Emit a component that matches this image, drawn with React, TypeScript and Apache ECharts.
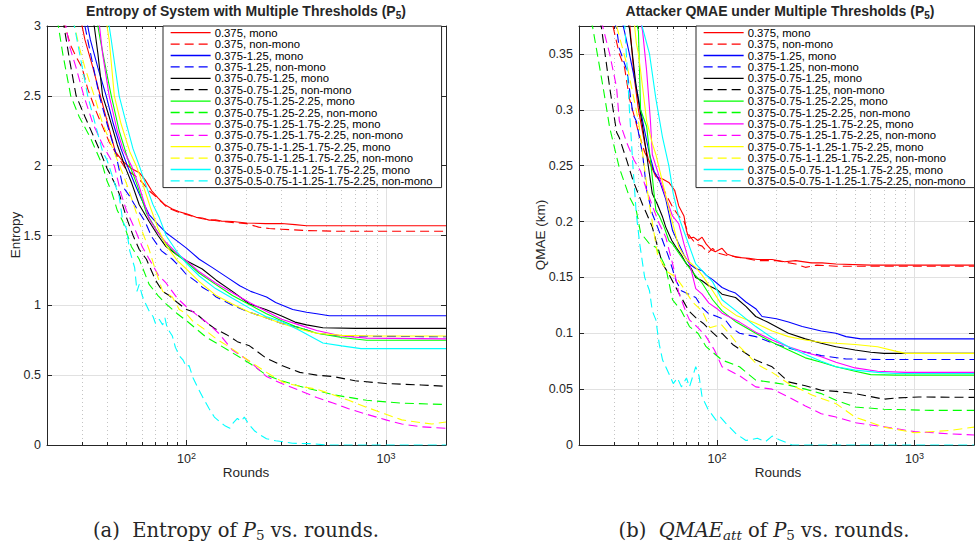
import React, { useEffect, useRef } from "react";
import * as echarts from "echarts";

// ---------- legend / series styling ----------
const SERIES_NAMES = [
  "0.375, mono",
  "0.375, non-mono",
  "0.375-1.25, mono",
  "0.375-1.25, non-mono",
  "0.375-0.75-1.25, mono",
  "0.375-0.75-1.25, non-mono",
  "0.375-0.75-1.25-2.25, mono",
  "0.375-0.75-1.25-2.25, non-mono",
  "0.375-0.75-1.25-1.75-2.25, mono",
  "0.375-0.75-1.25-1.75-2.25, non-mono",
  "0.375-0.75-1-1.25-1.75-2.25, mono",
  "0.375-0.75-1-1.25-1.75-2.25, non-mono",
  "0.375-0.5-0.75-1-1.25-1.75-2.25, mono",
  "0.375-0.5-0.75-1-1.25-1.75-2.25, non-mono",
];
const SERIES_COLORS = [
  "#ff0000", "#ff0000", "#0000ff", "#0000ff", "#000000", "#000000", "#00ff00",
  "#00ff00", "#ff00ff", "#ff00ff", "#ffff00", "#ffff00", "#00ffff", "#00ffff",
];
const SERIES_DASHED = [false, true, false, true, false, true, false, true, false, true, false, true, false, true];

// ---------- axes ----------
const X_MIN = 20;
const X_MAX = 2000;
const X_MAJOR_TICKS = [100, 1000];
const X_MINOR_TICKS = [20, 30, 40, 50, 60, 70, 80, 90, 200, 300, 400, 500, 600, 700, 800, 900, 2000];
const ENT_Y = { min: 0, max: 3, interval: 0.5 };
const QMAE_Y = { min: 0, max: 0.375, interval: 0.05 };

// ---------- (a) Entropy vs rounds : [round, entropy] ----------
const entRedMono = [[29,3.1],[31,2.9],[34,2.7],[37,2.5],[40,2.32],[44,2.1],[48,2.03],[53,1.98],[58,1.95],[62,1.9],[67,1.82],[72,1.77],[78,1.72],[85,1.69],[92,1.67],[100,1.655],[112,1.63],[120,1.625],[130,1.61],[140,1.612],[150,1.603],[170,1.6],[200,1.59],[250,1.585],[300,1.586],[350,1.578],[400,1.57],[600,1.57],[1000,1.57],[2000,1.57]];
const entRedNon = [[24,3.05],[26.3,2.86],[28,2.78],[30,2.7],[32,2.55],[35,2.4],[38,2.28],[41,2.17],[46,2.05],[50,1.97],[55,1.93],[60,1.88],[65,1.82],[70,1.78],[75,1.74],[80,1.7],[90,1.67],[100,1.65],[120,1.62],[150,1.6],[180,1.59],[200,1.585],[230,1.56],[260,1.55],[300,1.545],[400,1.535],[600,1.53],[1000,1.53],[2000,1.53]];
const entBlueMono = [[31,3.1],[33,2.9],[36,2.7],[39.6,2.5],[43,2.3],[47,2.12],[50.5,2.0],[55,1.87],[60,1.75],[65,1.65],[72,1.58],[79,1.52],[90,1.46],[100,1.41],[116,1.33],[135,1.27],[160,1.2],[185,1.14],[210,1.1],[252,1.06],[280,1.02],[341,0.97],[400,0.95],[450,0.94],[520,0.925],[700,0.925],[1000,0.925],[2000,0.925]];
const entBlueNon = [[30,3.1],[32,2.9],[36.6,2.5],[40,2.3],[44,2.1],[48,1.85],[52,1.78],[56,1.7],[62,1.6],[67,1.49],[75,1.39],[85,1.33],[92,1.28],[100,1.22],[112,1.17],[120,1.13],[130,1.1],[141,1.06],[170,1.0],[207,0.95],[252,0.91],[300,0.87],[367,0.84],[450,0.8],[600,0.78],[2000,0.775]];
const entBlackMono = [[33,3.1],[34.5,3.0],[36,2.8],[38,2.5],[41,2.35],[45,2.15],[49,2.0],[53,1.88],[58,1.72],[65,1.6],[72,1.5],[79,1.42],[90,1.36],[100,1.32],[120,1.26],[141,1.18],[170,1.1],[207,1.01],[250,0.97],[304,0.92],[350,0.88],[400,0.86],[483,0.84],[700,0.835],[2000,0.835]];
const entBlackNon = [[24,3.05],[26,2.75],[28,2.5],[31,2.35],[34,2.22],[37,2.1],[40,1.98],[43.5,1.88],[46,1.8],[50,1.63],[54,1.5],[58,1.4],[63,1.33],[70,1.18],[76,1.1],[82,1.07],[90,1.02],[100,0.97],[110,0.95],[125,0.88],[140,0.83],[159,0.79],[180,0.74],[207,0.71],[252,0.62],[300,0.57],[370,0.52],[450,0.5],[543,0.49],[700,0.46],[1000,0.44],[1500,0.43],[2000,0.42]];
const entGreenMono = [[35,3.1],[37,2.9],[40,2.65],[42,2.5],[46,2.25],[52,2.0],[57,1.85],[63,1.66],[70,1.55],[79,1.44],[90,1.36],[100,1.31],[116,1.23],[140,1.15],[170,1.07],[210,1.0],[252,0.94],[300,0.89],[350,0.85],[450,0.8],[600,0.77],[800,0.75],[2000,0.75]];
const entGreenNon = [[22.5,3.05],[24,2.8],[26.3,2.5],[29,2.35],[33,2.2],[38,2.0],[40,1.89],[42,1.82],[45,1.68],[48,1.6],[53,1.42],[58,1.33],[65,1.15],[72,1.07],[79,1.01],[90,0.94],[100,0.89],[126,0.77],[145,0.72],[170,0.66],[210,0.58],[252,0.5],[300,0.46],[370,0.42],[450,0.39],[543,0.36],[800,0.32],[1200,0.3],[2000,0.29]];
const entMagMono = [[36,3.1],[38,2.8],[41,2.5],[45,2.25],[48,2.12],[53,2.0],[58,1.85],[65,1.62],[72,1.52],[79,1.45],[90,1.37],[100,1.32],[116,1.24],[140,1.16],[170,1.09],[207,1.02],[250,0.96],[300,0.9],[367,0.86],[450,0.82],[600,0.78],[800,0.765],[2000,0.76]];
const entMagNon = [[24.5,3.05],[26,2.85],[28,2.7],[30.6,2.5],[34,2.3],[38,2.15],[43.5,2.0],[47,1.8],[50,1.68],[55,1.55],[60,1.42],[67,1.3],[72,1.22],[79,1.16],[90,1.05],[100,0.99],[113,0.93],[126,0.88],[145,0.8],[170,0.68],[207,0.6],[252,0.49],[300,0.44],[370,0.39],[450,0.34],[543,0.3],[650,0.26],[800,0.22],[1000,0.18],[1200,0.15],[1500,0.13],[2000,0.12]];
const entYelMono = [[39,3.1],[41,2.9],[43.5,2.5],[47,2.3],[52,2.1],[56,2.0],[60,1.88],[66,1.7],[72,1.55],[79,1.43],[90,1.32],[100,1.26],[116,1.17],[141,1.07],[170,1.01],[207,0.95],[252,0.91],[300,0.87],[367,0.83],[450,0.8],[600,0.785],[900,0.78],[2000,0.78]];
const entYelNon = [[27,3.05],[29,2.85],[31,2.7],[34.5,2.5],[38,2.3],[42,2.15],[48,1.94],[51,1.84],[55,1.7],[60,1.53],[65,1.4],[70,1.25],[76,1.1],[85,1.06],[92,0.97],[100,0.94],[107,0.89],[120,0.84],[141,0.76],[165,0.7],[207,0.6],[252,0.52],[304,0.45],[370,0.42],[450,0.4],[543,0.36],[650,0.32],[800,0.27],[1000,0.22],[1200,0.18],[1500,0.16],[1700,0.15],[2000,0.165]];
const entCyanMono = [[40,3.1],[42,2.9],[46,2.5],[50,2.3],[54,2.12],[58,2.0],[63,1.85],[68,1.72],[73,1.63],[79,1.5],[90,1.38],[100,1.3],[116,1.21],[140,1.12],[170,1.05],[207,0.98],[250,0.92],[304,0.88],[370,0.82],[483,0.73],[600,0.71],[750,0.69],[2000,0.69]];
const entCyanNon = [[27,3.05],[32,2.5],[38,2.1],[40,2.04],[44,1.86],[46,1.78],[48,1.6],[50,1.55],[52,1.39],[55,1.27],[56.5,1.1],[58,1.15],[60,1.07],[62,1.02],[65,0.96],[68,0.92],[70,0.87],[73,0.9],[76,0.86],[78,0.91],[80,0.84],[85,0.78],[88,0.7],[92,0.64],[96,0.61],[100,0.56],[103,0.57],[108,0.48],[115,0.4],[122,0.33],[130,0.26],[138,0.2],[146,0.17],[155,0.14],[165,0.12],[172,0.16],[180,0.19],[188,0.17],[195,0.2],[205,0.15],[220,0.1],[235,0.07],[252,0.045],[280,0.03],[300,0.025],[340,0.012],[420,0.01],[500,0.0],[2000,0.0]];

// ---------- (b) QMAE vs rounds : [round, km] ----------
const qRedMono = [[36,0.38],[38,0.33],[40,0.3],[43,0.27],[45,0.255],[49,0.24],[53,0.238],[57,0.235],[61,0.228],[64,0.214],[68,0.205],[70,0.192],[72,0.185],[76,0.186],[80,0.183],[84,0.186],[88,0.18],[93,0.175],[98,0.173],[106,0.176],[112,0.171],[125,0.168],[145,0.167],[160,0.166],[190,0.166],[220,0.164],[250,0.165],[300,0.163],[340,0.163],[400,0.162],[600,0.161],[1000,0.161],[2000,0.161]];
const qRedNon = [[29.7,0.375],[32,0.35],[34,0.338],[36,0.31],[38,0.295],[40,0.28],[43,0.262],[46,0.252],[49,0.242],[53,0.231],[56,0.222],[60,0.212],[64,0.205],[68,0.2],[72,0.188],[78,0.18],[84,0.178],[90,0.172],[95,0.176],[100,0.172],[110,0.17],[130,0.168],[160,0.165],[200,0.165],[250,0.162],[280,0.159],[320,0.161],[400,0.16],[1000,0.16],[2000,0.16]];
const qBlueMono = [[33,0.38],[34,0.37],[36,0.35],[39,0.32],[42,0.29],[45.5,0.26],[48,0.245],[51,0.237],[55,0.22],[59.5,0.192],[64,0.18],[68,0.17],[72.5,0.162],[78,0.158],[84,0.156],[88,0.152],[95,0.148],[106,0.141],[115,0.138],[124,0.136],[140,0.128],[157,0.122],[169,0.115],[200,0.113],[230,0.11],[270,0.106],[337,0.102],[400,0.1],[450,0.097],[535,0.095],[1000,0.095],[2000,0.095]];
const qBlueNon = [[30,0.38],[31,0.373],[32,0.355],[35,0.335],[37.5,0.296],[39,0.29],[42,0.26],[44,0.228],[47,0.207],[50,0.195],[53,0.183],[57,0.168],[62,0.147],[66,0.138],[72,0.135],[78,0.132],[84,0.123],[90,0.118],[100,0.115],[110,0.112],[118,0.105],[130,0.1],[157,0.097],[200,0.09],[250,0.085],[300,0.082],[337,0.08],[450,0.077],[700,0.0765],[2000,0.0765]];
const qBlackMono = [[35,0.38],[36,0.373],[39,0.32],[42,0.285],[44,0.26],[47,0.225],[50,0.215],[53,0.204],[55,0.195],[59,0.183],[62,0.177],[66,0.17],[70,0.162],[74,0.158],[78,0.15],[84,0.147],[90,0.143],[100,0.139],[106,0.135],[124,0.132],[140,0.124],[157,0.115],[180,0.11],[230,0.1],[280,0.095],[337,0.091],[400,0.088],[500,0.085],[600,0.083],[700,0.082],[2000,0.082]];
const qBlackNon = [[25.5,0.38],[26,0.373],[28.6,0.32],[31,0.28],[32,0.275],[35,0.254],[37.5,0.237],[42,0.215],[44,0.207],[47,0.195],[49,0.183],[53,0.162],[57,0.153],[64,0.136],[72,0.12],[78,0.114],[85,0.109],[92,0.103],[100,0.097],[106,0.1],[120,0.09],[157,0.076],[190,0.07],[230,0.0565],[280,0.053],[337,0.049],[400,0.048],[500,0.046],[700,0.041],[800,0.042],[1050,0.043],[2000,0.0426]];
const qGreenMono = [[39,0.38],[40,0.37],[41,0.3],[44,0.285],[47,0.24],[49,0.21],[51,0.205],[54,0.195],[57,0.183],[59.5,0.18],[65,0.17],[70,0.162],[75,0.155],[84,0.145],[95,0.13],[106,0.12],[125,0.11],[157,0.1],[190,0.092],[230,0.085],[280,0.078],[337,0.074],[400,0.07],[500,0.066],[600,0.063],[800,0.0625],[2000,0.0625]];
const qGreenNon = [[23,0.38],[23.5,0.373],[26.5,0.32],[28.6,0.284],[32,0.248],[36,0.222],[39,0.21],[41,0.19],[45.5,0.18],[49,0.177],[55,0.159],[59.5,0.13],[66,0.12],[72.5,0.106],[80,0.1],[88,0.088],[106,0.076],[130,0.07],[157,0.058],[190,0.056],[230,0.0536],[280,0.05],[337,0.046],[400,0.04],[500,0.034],[700,0.032],[1200,0.031],[2000,0.031]];
const qMagMono = [[41,0.38],[42,0.37],[44,0.335],[46,0.29],[47,0.26],[51,0.24],[55,0.222],[59.5,0.205],[64,0.198],[68,0.18],[72,0.165],[78,0.14],[84,0.135],[91,0.127],[100,0.122],[106,0.118],[130,0.11],[157,0.101],[190,0.094],[230,0.088],[280,0.083],[337,0.079],[400,0.074],[500,0.069],[650,0.066],[900,0.065],[2000,0.065]];
const qMagNon = [[26,0.38],[26.5,0.373],[28.6,0.35],[31,0.32],[32,0.29],[35,0.27],[38,0.255],[41,0.245],[44,0.228],[48,0.21],[51,0.198],[55,0.186],[60,0.16],[64,0.136],[70,0.118],[72.5,0.112],[80,0.105],[88,0.097],[97,0.085],[106,0.07],[130,0.062],[157,0.052],[190,0.05],[230,0.043],[280,0.035],[337,0.028],[400,0.025],[500,0.02],[715,0.016],[1000,0.012],[1500,0.01],[2000,0.009]];
const qYelMono = [[38,0.38],[39,0.36],[40,0.35],[42,0.32],[44,0.29],[47,0.27],[49,0.26],[53,0.235],[57,0.212],[64,0.177],[70,0.166],[78,0.159],[84,0.152],[95,0.138],[106,0.125],[125,0.116],[157,0.109],[190,0.102],[230,0.097],[280,0.094],[337,0.092],[400,0.091],[500,0.09],[650,0.088],[800,0.084],[900,0.082],[2000,0.082]];
const qYelNon = [[31,0.375],[35,0.34],[40,0.29],[45,0.22],[50,0.17],[56,0.155],[62,0.15],[68,0.14],[75,0.128],[84,0.12],[92,0.105],[105,0.108],[115,0.1],[130,0.088],[160,0.072],[190,0.065],[230,0.055],[300,0.045],[400,0.037],[500,0.025],[700,0.016],[1000,0.011],[1500,0.013],[2000,0.016]];
const qCyanMono = [[41,0.38],[42,0.373],[45.5,0.35],[49,0.31],[53,0.275],[57,0.25],[60,0.225],[64,0.204],[70,0.185],[78,0.162],[84,0.156],[95,0.146],[106,0.13],[125,0.12],[157,0.106],[190,0.096],[230,0.088],[280,0.081],[337,0.075],[400,0.07],[500,0.067],[650,0.065],[800,0.064],[2000,0.064]];
const qCyanNon = [[34,0.38],[36,0.3],[37.5,0.25],[39,0.207],[40.6,0.18],[43,0.15],[45.5,0.138],[47,0.12],[49,0.112],[51,0.09],[53,0.076],[57,0.064],[60,0.055],[63,0.06],[66,0.052],[70,0.06],[72.5,0.052],[78,0.07],[81,0.062],[84,0.043],[90,0.032],[99,0.022],[104,0.025],[110,0.02],[125,0.01],[140,0.004],[160,0.006],[176,0.003],[190,0.008],[205,0.005],[240,0.0],[2000,0.0]];

const ENTROPY_DATA = [entRedMono, entRedNon, entBlueMono, entBlueNon, entBlackMono, entBlackNon, entGreenMono, entGreenNon, entMagMono, entMagNon, entYelMono, entYelNon, entCyanMono, entCyanNon];
const QMAE_DATA = [qRedMono, qRedNon, qBlueMono, qBlueNon, qBlackMono, qBlackNon, qGreenMono, qGreenNon, qMagMono, qMagNon, qYelMono, qYelNon, qCyanMono, qCyanNon];

const INK = "#262626";
const SANS = "Liberation Sans, Arial, Helvetica, sans-serif";
const SERIF = "DejaVu Serif, Liberation Serif, serif";

function xAxesFor(gridIndex: number) {
  const base = { type: "log", logBase: 10, min: X_MIN, max: X_MAX, gridIndex };
  return [
    {
      ...base,
      position: "bottom",
      axisLine: { show: true, onZero: false, lineStyle: { color: INK, width: 1 } },
      axisTick: { show: true, inside: true, length: 5, customValues: X_MAJOR_TICKS, lineStyle: { color: INK } },
      axisLabel: {
        show: true,
        customValues: X_MAJOR_TICKS,
        margin: 6,
        color: INK,
        formatter: (v: number) => {
          const e = Math.round(Math.log10(v));
          if (Math.abs(Math.pow(10, e) - v) > 1e-6) return "";
          return `{b|10}{s|${e}}`;
        },
        rich: {
          b: { fontSize: 12.5, fontFamily: SANS, color: INK },
          s: { fontSize: 9, fontFamily: SANS, color: INK, padding: [0, 0, 7, 0] },
        },
      },
      splitLine: { show: true, lineStyle: { color: "#e1e1e1", width: 1 } },
      z: 1,
    },
    {
      ...base,
      position: "bottom",
      axisLine: { show: false, onZero: false },
      axisTick: { show: true, inside: true, length: 3, customValues: X_MINOR_TICKS, lineStyle: { color: INK } },
      axisLabel: { show: false },
      splitLine: { show: true, lineStyle: { color: "#c4c4c4", width: 1, type: [1, 3] } },
      z: 1,
    },
    {
      ...base,
      position: "top",
      axisLine: { show: true, onZero: false, lineStyle: { color: INK, width: 1 } },
      axisTick: { show: true, inside: true, length: 3, customValues: [...X_MINOR_TICKS, ...X_MAJOR_TICKS], lineStyle: { color: INK } },
      axisLabel: { show: false },
      splitLine: { show: false },
      z: 1,
    },
  ];
}

function yAxesFor(gridIndex: number, cfg: { min: number; max: number; interval: number }) {
  const base = { type: "value", gridIndex, min: cfg.min, max: cfg.max, interval: cfg.interval };
  const onGrid = (v: number) => Math.abs(v / cfg.interval - Math.round(v / cfg.interval)) < 1e-6;
  return [
    {
      ...base,
      position: "left",
      axisLine: { show: true, onZero: false, lineStyle: { color: INK } },
      axisTick: { show: true, inside: true, length: 5, lineStyle: { color: INK } },
      axisLabel: {
        color: INK,
        fontSize: 12.5,
        fontFamily: SANS,
        margin: 6,
        formatter: (v: number) => (onGrid(v) ? String(+v.toFixed(3)) : ""),
      },
      splitLine: { show: true, lineStyle: { color: "#e1e1e1", width: 1 } },
      z: 1,
    },
    {
      ...base,
      position: "right",
      axisLine: { show: true, onZero: false, lineStyle: { color: INK } },
      axisTick: { show: true, inside: true, length: 5, lineStyle: { color: INK } },
      axisLabel: { show: false },
      splitLine: { show: false },
      z: 1,
    },
  ];
}

function seriesFor(datasets: number[][][], gridIndex: number) {
  return datasets.map((d, k) => ({
    type: "line",
    name: SERIES_NAMES[k],
    data: d,
    xAxisIndex: gridIndex * 3,
    yAxisIndex: gridIndex * 2,
    symbol: "none",
    showSymbol: false,
    clip: true,
    silent: true,
    smooth: false,
    emphasis: { disabled: true },
    lineStyle: { color: SERIES_COLORS[k], width: 1.1, type: SERIES_DASHED[k] ? [9, 5] : "solid" },
    itemStyle: { color: SERIES_COLORS[k] },
    z: 3,
  }));
}

function legendFor(left: number) {
  return {
    data: SERIES_NAMES,
    orient: "vertical",
    left,
    top: 26,
    itemWidth: 40,
    itemHeight: 8,
    itemGap: 0,
    padding: [1, 9, 1, 7],
    backgroundColor: "#ffffff",
    borderColor: INK,
    borderWidth: 1,
    borderRadius: 0,
    selectedMode: false,
    z: 10,
    itemStyle: { opacity: 0, borderWidth: 0 },
    lineStyle: { width: 1.3 },
    textStyle: { fontSize: 11.3, lineHeight: 11.4, color: "#000", fontFamily: SANS, padding: [0, 0, 0, -1] },
  };
}

function textEl(x: number, y: number, text: string, rich: any, extra: any = {}) {
  return {
    type: "text",
    x,
    y,
    silent: true,
    z: 20,
    ...extra,
    style: { text, rich, align: "center", verticalAlign: "middle", fill: INK, ...(extra.style || {}) },
  };
}

const titleRich = {
  t: { fontSize: 14, fontWeight: "bold", fontFamily: SANS, color: "#000" },
  s: { fontSize: 10, fontWeight: "bold", fontFamily: SANS, color: "#000", padding: [9, 0, 0, 0] },
};
const capRich = {
  r: { fontSize: 19.5, fontFamily: SERIF, color: "#000" },
  i: { fontSize: 19.5, fontFamily: SERIF, fontStyle: "italic", color: "#000" },
  s: { fontSize: 13.5, fontFamily: SERIF, color: "#000", padding: [10, 0, 0, 0] },
  si: { fontSize: 13.5, fontFamily: SERIF, fontStyle: "italic", color: "#000", padding: [10, 0, 0, 0] },
};
const axisNameRich = { n: { fontSize: 13.5, fontFamily: SANS, color: INK } };

export default function App() {
  const ref = useRef<HTMLDivElement>(null);
  useEffect(() => {
    if (!ref.current) return;
    const chart = echarts.init(ref.current, null, { renderer: "svg" });
    const option: any = {
      animation: false,
      backgroundColor: "#ffffff",
      grid: [
        { left: 47, top: 26, width: 399, height: 419, containLabel: false },
        { left: 579, top: 26, width: 395, height: 419, containLabel: false },
      ],
      xAxis: [...xAxesFor(0), ...xAxesFor(1)],
      yAxis: [...yAxesFor(0, ENT_Y), ...yAxesFor(1, QMAE_Y)],
      legend: [legendFor(163), legendFor(696)],
      series: [...seriesFor(ENTROPY_DATA as any, 0), ...seriesFor(QMAE_DATA as any, 1)],
      graphic: [
        textEl(246, 11, "{t|Entropy of System with Multiple Thresholds (P}{s|5}{t|)}", titleRich),
        textEl(780, 11, "{t|Attacker QMAE under Multiple Thresholds (P}{s|5}{t|)}", titleRich),
        textEl(246, 472, "{n|Rounds}", axisNameRich),
        textEl(778, 472, "{n|Rounds}", axisNameRich),
        textEl(15, 235, "{n|Entropy}", axisNameRich, { rotation: Math.PI / 2 }),
        textEl(540, 235, "{n|QMAE (km)}", axisNameRich, { rotation: Math.PI / 2 }),
        textEl(236, 530, "{r|(a)  Entropy of }{i|P}{s|5}{r| vs. rounds.}", capRich),
        textEl(764, 530, "{r|(b)  }{i|QMAE}{si|att}{r| of }{i|P}{s|5}{r| vs. rounds.}", capRich),
      ],
    };
    chart.setOption(option);
    return () => chart.dispose();
  }, []);
  return <div ref={ref} style={{ position: "absolute", left: 0, top: 0, width: 975, height: 548 }} />;
}
